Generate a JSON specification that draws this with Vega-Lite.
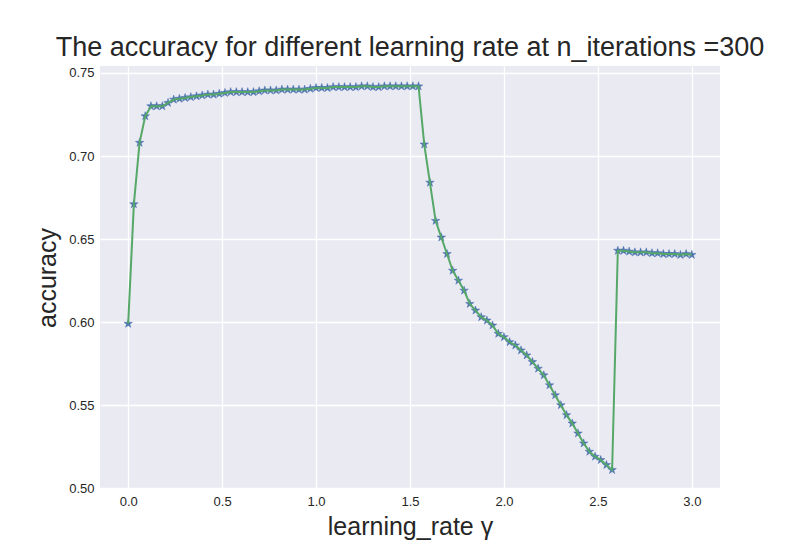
{
  "$schema": "https://vega.github.io/schema/vega-lite/v6.json",
  "width": 620,
  "height": 423,
  "autosize": "none",
  "padding": {"left": 100, "top": 66, "right": 80, "bottom": 61},
  "background": "white",
  "title": {"text": "The accuracy for different learning rate at n_iterations =300", "fontSize": 27, "font": "Liberation Sans", "fontWeight": "normal", "color": "#262626", "offset": 4},
  "config": {
    "view": {"fill": "#EAEAF2", "stroke": null},
    "axis": {"grid": true, "gridColor": "white", "gridWidth": 1.3, "domain": false, "ticks": false, "labelFont": "Liberation Sans", "labelFontSize": 13, "labelColor": "#262626", "titleFont": "Liberation Sans", "titleFontSize": 25, "titleFontWeight": "normal", "titleColor": "#262626", "labelPadding": 6}
  },
  "data": {"values": [
    {"lr": 0, "acc": 0.599}, {"lr": 0.0303, "acc": 0.671}, {"lr": 0.0606, "acc": 0.708}, {"lr": 0.0909, "acc": 0.724},
    {"lr": 0.1212, "acc": 0.730}, {"lr": 0.1515, "acc": 0.730}, {"lr": 0.1818, "acc": 0.730}, {"lr": 0.2121, "acc": 0.732},
    {"lr": 0.2424, "acc": 0.734}, {"lr": 0.2727, "acc": 0.7345}, {"lr": 0.3030, "acc": 0.735}, {"lr": 0.3333, "acc": 0.7355},
    {"lr": 0.3636, "acc": 0.736}, {"lr": 0.3939, "acc": 0.7365}, {"lr": 0.4242, "acc": 0.737}, {"lr": 0.4545, "acc": 0.737},
    {"lr": 0.4848, "acc": 0.7375}, {"lr": 0.5152, "acc": 0.738}, {"lr": 0.5455, "acc": 0.7385}, {"lr": 0.5758, "acc": 0.7385},
    {"lr": 0.6061, "acc": 0.7385}, {"lr": 0.6364, "acc": 0.7385}, {"lr": 0.6667, "acc": 0.7385}, {"lr": 0.6970, "acc": 0.739},
    {"lr": 0.7273, "acc": 0.7395}, {"lr": 0.7576, "acc": 0.7395}, {"lr": 0.7879, "acc": 0.7395}, {"lr": 0.8182, "acc": 0.740},
    {"lr": 0.8485, "acc": 0.740}, {"lr": 0.8788, "acc": 0.740}, {"lr": 0.9091, "acc": 0.740}, {"lr": 0.9394, "acc": 0.740},
    {"lr": 0.9697, "acc": 0.7405}, {"lr": 1.0, "acc": 0.741}, {"lr": 1.0303, "acc": 0.741}, {"lr": 1.0606, "acc": 0.741},
    {"lr": 1.0909, "acc": 0.7415}, {"lr": 1.1212, "acc": 0.7415}, {"lr": 1.1515, "acc": 0.7415}, {"lr": 1.1818, "acc": 0.7415},
    {"lr": 1.2121, "acc": 0.7415}, {"lr": 1.2424, "acc": 0.742}, {"lr": 1.2727, "acc": 0.742}, {"lr": 1.3030, "acc": 0.7415},
    {"lr": 1.3333, "acc": 0.7415}, {"lr": 1.3636, "acc": 0.742}, {"lr": 1.3939, "acc": 0.742}, {"lr": 1.4242, "acc": 0.742},
    {"lr": 1.4545, "acc": 0.742}, {"lr": 1.4848, "acc": 0.742}, {"lr": 1.5152, "acc": 0.742}, {"lr": 1.5455, "acc": 0.742},
    {"lr": 1.5758, "acc": 0.707}, {"lr": 1.6061, "acc": 0.684}, {"lr": 1.6364, "acc": 0.661}, {"lr": 1.6667, "acc": 0.651},
    {"lr": 1.6970, "acc": 0.641}, {"lr": 1.7273, "acc": 0.631}, {"lr": 1.7576, "acc": 0.625}, {"lr": 1.7879, "acc": 0.619},
    {"lr": 1.8182, "acc": 0.611}, {"lr": 1.8485, "acc": 0.607}, {"lr": 1.8788, "acc": 0.603}, {"lr": 1.9091, "acc": 0.601},
    {"lr": 1.9394, "acc": 0.598}, {"lr": 1.9697, "acc": 0.593}, {"lr": 2.0, "acc": 0.591}, {"lr": 2.0303, "acc": 0.588},
    {"lr": 2.0606, "acc": 0.586}, {"lr": 2.0909, "acc": 0.583}, {"lr": 2.1212, "acc": 0.580}, {"lr": 2.1515, "acc": 0.576},
    {"lr": 2.1818, "acc": 0.572}, {"lr": 2.2121, "acc": 0.568}, {"lr": 2.2424, "acc": 0.562}, {"lr": 2.2727, "acc": 0.556},
    {"lr": 2.3030, "acc": 0.550}, {"lr": 2.3333, "acc": 0.544}, {"lr": 2.3636, "acc": 0.539}, {"lr": 2.3939, "acc": 0.533},
    {"lr": 2.4242, "acc": 0.527}, {"lr": 2.4545, "acc": 0.522}, {"lr": 2.4848, "acc": 0.519}, {"lr": 2.5152, "acc": 0.517},
    {"lr": 2.5455, "acc": 0.514}, {"lr": 2.5758, "acc": 0.511}, {"lr": 2.6061, "acc": 0.643}, {"lr": 2.6364, "acc": 0.643},
    {"lr": 2.6667, "acc": 0.6425}, {"lr": 2.6970, "acc": 0.642}, {"lr": 2.7273, "acc": 0.642}, {"lr": 2.7576, "acc": 0.642},
    {"lr": 2.7879, "acc": 0.6415}, {"lr": 2.8182, "acc": 0.6415}, {"lr": 2.8485, "acc": 0.641}, {"lr": 2.8788, "acc": 0.641},
    {"lr": 2.9091, "acc": 0.641}, {"lr": 2.9394, "acc": 0.6405}, {"lr": 2.9697, "acc": 0.641}, {"lr": 3.0, "acc": 0.6405}
  ]},
  "encoding": {
    "x": {"field": "lr", "type": "quantitative", "title": "learning_rate γ", "scale": {"domain": [-0.15, 3.15], "nice": false, "zero": false}, "axis": {"values": [0, 0.5, 1, 1.5, 2, 2.5, 3], "format": ".1f", "titlePadding": 6}},
    "y": {"field": "acc", "type": "quantitative", "title": "accuracy", "scale": {"domain": [0.4995, 0.7542], "nice": false, "zero": false}, "axis": {"values": [0.5, 0.55, 0.6, 0.65, 0.7, 0.75], "format": ".2f", "titlePadding": 8}}
  },
  "layer": [
    {"mark": {"type": "point", "shape": "M0,-1L0.2245,-0.309L0.9511,-0.309L0.3633,0.118L0.5878,0.809L0,0.382L-0.5878,0.809L-0.3633,0.118L-0.9511,-0.309L-0.2245,-0.309Z", "filled": true, "color": "#4C72B0", "size": 80, "opacity": 1, "stroke": "#4C72B0", "strokeWidth": 0.5}},
    {"mark": {"type": "line", "color": "#55A868", "strokeWidth": 2}}
  ]
}
